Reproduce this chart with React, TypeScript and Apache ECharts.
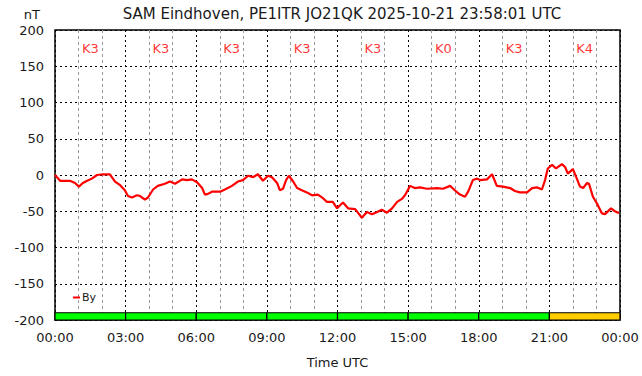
import React, { useEffect, useRef } from "react";
import * as echarts from "echarts";

const titleText = "SAM Eindhoven, PE1ITR JO21QK 2025-10-21 23:58:01 UTC";

// minutes since 00:00 UTC
const minutes = [
  0, 13, 38, 51, 61, 71, 82, 94, 107, 122, 140, 153, 166, 178, 186, 196, 209, 217, 229, 237,
  250, 262, 280, 293, 306, 324, 336, 349, 362, 375, 382, 390, 400, 421, 433, 451, 466, 479, 492, 505,
  517, 530, 543, 553, 566, 573, 581, 589, 596, 607, 617, 629, 642, 655, 670, 683, 693, 708, 719, 726,
  734, 747, 765, 772, 782, 795, 808, 821, 833, 846, 859, 872, 884, 892, 905, 917, 930, 948, 974, 989,
  1007, 1019, 1032, 1045, 1053, 1065, 1076, 1083, 1101, 1114, 1126, 1142, 1160, 1172, 1185, 1203, 1216, 1228, 1241, 1249,
  1256, 1267, 1277, 1292, 1300, 1307, 1320, 1330, 1338, 1346, 1356, 1361, 1371, 1381, 1394, 1402, 1417, 1427, 1435, 1438,
];
// By in nT
const byValues = [
  0, -8, -8, -11, -16, -11, -8, -5, 0, 1, 1, -9, -14, -21, -29, -31, -28, -29, -34, -31,
  -20, -15, -12, -9, -12, -6, -7, -6, -10, -18, -27, -26, -23, -23, -20, -15, -9, -7, -1, -3,
  1, -8, -1, -3, -11, -21, -19, -7, -1, -9, -18, -21, -24, -28, -27, -32, -37, -37, -46, -42,
  -38, -46, -47, -52, -59, -51, -54, -51, -48, -52, -46, -37, -33, -28, -15, -18, -17, -19, -18, -19,
  -15, -21, -27, -30, -23, -7, -5, -7, -6, 1, -15, -16, -18, -22, -24, -24, -18, -17, -20, -7,
  9, 14, 9, 15, 11, 2, 8, -5, -16, -18, -11, -12, -30, -39, -53, -54, -46, -50, -52, -52,
];

// 3-hour K index blocks
const kBlockStart = [0, 180, 360, 540, 720, 900, 1080, 1260];
const kIndex = [3, 3, 3, 3, 3, 0, 3, 4];

const xTickLabels = ["00:00", "03:00", "06:00", "09:00", "12:00", "15:00", "18:00", "21:00", "00:00"];

const FONT = "DejaVu Sans";

export default function App() {
  const ref = useRef<HTMLDivElement>(null);
  useEffect(() => {
    if (!ref.current) return;
    const chart = echarts.init(ref.current, undefined, { renderer: "svg" });
    const lineData = minutes.map((m, i) => [m, byValues[i]]);
    const kLabelData = kIndex.map((k, i) => ({ name: "K" + k, value: [kBlockStart[i] + 90, 174] }));
    const kAreas = kIndex.map((k, i) => [
      {
        xAxis: kBlockStart[i],
        yAxis: -190,
        itemStyle: { color: k >= 4 ? "#ffcc00" : "#00ff00", borderColor: "#000", borderWidth: 1.2 },
      },
      { xAxis: kBlockStart[i] + 180, yAxis: -200 },
    ]);
    chart.setOption({
      animation: false,
      backgroundColor: "#fff",
      title: {
        text: titleText,
        left: 337,
        textAlign: "center",
        top: 1,
        textStyle: { fontFamily: FONT, fontSize: 15, fontWeight: "normal", color: "#1a1a1a" },
      },
      legend: {
        data: ["By"],
        left: 68,
        top: 287,
        icon: "rect",
        itemWidth: 7,
        itemHeight: 2,
        itemGap: 2,
        textStyle: { fontFamily: FONT, fontSize: 11, color: "#1a1a1a", padding: [0, 0, 0, -3] },
      },
      grid: {
        left: 55,
        right: 22,
        top: 30,
        bottom: 56,
        show: true,
        borderColor: "#000",
        borderWidth: 1.5,
      },
      xAxis: {
        type: "value",
        min: 0,
        max: 1440,
        interval: 180,
        name: "Time UTC",
        nameLocation: "middle",
        nameGap: 36,
        nameTextStyle: { fontFamily: FONT, fontSize: 13, color: "#1a1a1a" },
        axisLine: { show: false },
        axisTick: { show: false },
        axisLabel: {
          fontFamily: FONT,
          fontSize: 13,
          color: "#1a1a1a",
          margin: 11,
          formatter: (v: number) => xTickLabels[Math.round(v / 180)] ?? "",
        },
        splitLine: { show: true, lineStyle: { color: "#000", type: [2, 3], width: 1 } },
        minorTick: { show: false, splitNumber: 3 },
        minorSplitLine: { show: true, lineStyle: { color: "#999", type: [3, 3], width: 1 } },
      },
      yAxis: {
        type: "value",
        min: -200,
        max: 200,
        interval: 50,
        name: "nT",
        nameLocation: "end",
        nameGap: 9,
        nameTextStyle: { fontFamily: FONT, fontSize: 13, color: "#1a1a1a", align: "right", padding: [0, 15, 0, 0] },
        axisLine: { show: false },
        axisTick: { show: false },
        axisLabel: { fontFamily: FONT, fontSize: 13, color: "#1a1a1a", margin: 11 },
        splitLine: { show: true, lineStyle: { color: "#000", type: [2, 3], width: 1 } },
      },
      series: [
        {
          name: "By",
          type: "line",
          data: lineData,
          showSymbol: false,
          symbol: "none",
          lineStyle: { color: "#ff0000", width: 2.2 },
          itemStyle: { color: "#ff0000" },
          z: 5,
          markArea: {
            silent: true,
            data: kAreas,
          },
        },
        {
          name: "K",
          type: "scatter",
          data: kLabelData,
          symbolSize: 1,
          itemStyle: { color: "rgba(0,0,0,0)" },
          label: {
            show: true,
            position: "inside",
            formatter: (p: any) => p.name,
            fontFamily: FONT,
            fontSize: 13,
            color: "#ff0000",
          },
          silent: true,
        },
      ],
    });
    return () => chart.dispose();
  }, []);
  return <div ref={ref} style={{ width: 642, height: 376, position: "absolute", left: 0, top: 0 }} />;
}
